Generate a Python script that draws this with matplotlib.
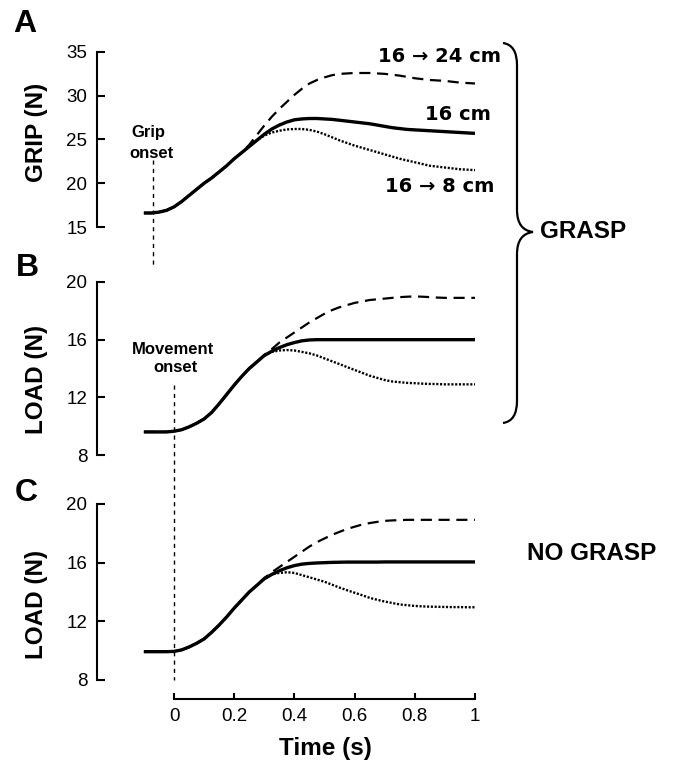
import matplotlib
matplotlib.use("Agg")
import matplotlib.pyplot as plt
from matplotlib.path import Path
from matplotlib.patches import PathPatch

# ---------------- data ----------------
time = [-0.1, -0.075, -0.05, -0.025, 0.0, 0.025, 0.05, 0.075, 0.1,
        0.125, 0.15, 0.175, 0.2, 0.225, 0.25, 0.275, 0.3, 0.325,
        0.35, 0.375, 0.4, 0.425, 0.45, 0.475, 0.5, 0.525, 0.55,
        0.575, 0.6, 0.625, 0.65, 0.675, 0.7, 0.725, 0.75, 0.775,
        0.8, 0.825, 0.85, 0.875, 0.9, 0.925, 0.95, 0.975, 1.0]

grip_16 = [16.6, 16.6, 16.7, 16.9, 17.3, 17.9, 18.6, 19.3, 20.0,
           20.6, 21.3, 22.0, 22.8, 23.5, 24.2, 24.9, 25.6, 26.2,
           26.65, 27.0, 27.25, 27.35, 27.4, 27.4, 27.35, 27.3, 27.2,
           27.1, 27.0, 26.9, 26.8, 26.65, 26.5, 26.35, 26.25, 26.15,
           26.1, 26.05, 26.0, 25.95, 25.9, 25.85, 25.8, 25.75, 25.7]
grip_24 = [16.6, 16.6, 16.7, 16.9, 17.3, 17.9, 18.6, 19.3, 20.0,
           20.6, 21.3, 22.0, 22.8, 23.5, 24.4, 25.5, 26.6, 27.6,
           28.5, 29.3, 30.1, 30.8, 31.4, 31.8, 32.1, 32.35, 32.5,
           32.55, 32.6, 32.6, 32.6, 32.55, 32.5, 32.4, 32.3, 32.15,
           32.0, 31.9, 31.8, 31.75, 31.7, 31.6, 31.5, 31.45, 31.4]
grip_8 = [16.6, 16.6, 16.7, 16.9, 17.3, 17.9, 18.6, 19.3, 20.0,
          20.6, 21.3, 22.0, 22.8, 23.5, 24.2, 24.9, 25.45, 25.8,
          26.0, 26.15, 26.2, 26.2, 26.1, 25.9, 25.6, 25.25, 24.9,
          24.6, 24.3, 24.05, 23.8, 23.55, 23.3, 23.05, 22.8, 22.6,
          22.4, 22.2, 22.0, 21.9, 21.8, 21.7, 21.6, 21.55, 21.5]

loadB_16 = [9.6, 9.6, 9.6, 9.6, 9.65, 9.75, 9.95, 10.2, 10.5,
            10.95, 11.55, 12.2, 12.85, 13.45, 14.0, 14.45, 14.9, 15.2,
            15.45, 15.65, 15.8, 15.92, 15.98, 16.0, 16.0, 16.0, 16.0,
            16.0, 16.0, 16.0, 16.0, 16.0, 16.0, 16.0, 16.0, 16.0,
            16.0, 16.0, 16.0, 16.0, 16.0, 16.0, 16.0, 16.0, 16.0]
loadB_24 = [9.6, 9.6, 9.6, 9.6, 9.65, 9.75, 9.95, 10.2, 10.5,
            10.95, 11.55, 12.2, 12.85, 13.45, 14.0, 14.45, 14.95, 15.35,
            15.8, 16.15, 16.5, 16.85, 17.2, 17.5, 17.8, 18.05, 18.25,
            18.4, 18.55, 18.65, 18.75, 18.8, 18.85, 18.9, 18.95, 18.98,
            19.0, 18.98, 18.95, 18.92, 18.9, 18.9, 18.9, 18.9, 18.9]
loadB_8 = [9.6, 9.6, 9.6, 9.6, 9.65, 9.75, 9.95, 10.2, 10.5,
           10.95, 11.55, 12.2, 12.85, 13.45, 14.0, 14.45, 14.9, 15.15,
           15.25, 15.28, 15.25, 15.15, 15.05, 14.9, 14.7, 14.5, 14.3,
           14.1, 13.9, 13.7, 13.5, 13.35, 13.2, 13.1, 13.05, 13.0,
           12.98, 12.95, 12.93, 12.92, 12.9, 12.9, 12.9, 12.9, 12.9]

loadC_16 = [9.93, 9.93, 9.93, 9.93, 9.95, 10.05, 10.25, 10.5, 10.8,
            11.25, 11.75, 12.3, 12.9, 13.45, 14.0, 14.45, 14.9, 15.2,
            15.45, 15.65, 15.8, 15.9, 15.95, 15.98, 16.0, 16.02, 16.03,
            16.04, 16.04, 16.04, 16.04, 16.04, 16.05, 16.05, 16.05, 16.05,
            16.05, 16.05, 16.05, 16.05, 16.05, 16.05, 16.05, 16.05, 16.05]
loadC_24 = [9.93, 9.93, 9.93, 9.93, 9.95, 10.05, 10.25, 10.5, 10.8,
            11.25, 11.75, 12.3, 12.9, 13.45, 14.0, 14.45, 14.95, 15.35,
            15.7, 16.05, 16.4, 16.75, 17.1, 17.4, 17.65, 17.9, 18.1,
            18.3, 18.45, 18.6, 18.7, 18.78, 18.85, 18.88, 18.9, 18.92,
            18.92, 18.92, 18.92, 18.92, 18.92, 18.92, 18.92, 18.92, 18.92]
loadC_8 = [9.93, 9.93, 9.93, 9.93, 9.95, 10.05, 10.25, 10.5, 10.8,
           11.25, 11.75, 12.3, 12.9, 13.45, 14.0, 14.45, 14.95, 15.2,
           15.3, 15.35, 15.3, 15.15, 15.0, 14.85, 14.7, 14.5, 14.3,
           14.12, 13.95, 13.78, 13.6, 13.47, 13.35, 13.25, 13.15, 13.1,
           13.05, 13.02, 13.0, 12.99, 12.98, 12.97, 12.97, 12.96, 12.96]

grip_ticks = [15, 20, 25, 30, 35]
load_ticks = [8, 12, 16, 20]
time_ticks = [0, 0.2, 0.4, 0.6, 0.8, 1]
time_ticklabels = ["0", "0.2", "0.4", "0.6", "0.8", "1"]
grip_onset_t = -0.07
move_onset_t = 0.0

# ---------------- figure ----------------
W, H = 676, 763
fig = plt.figure(figsize=(W / 100, H / 100), dpi=100)
plt.rcParams['font.family'] = ['Liberation Sans', 'DejaVu Sans']


def fx(px):
    return px / W


def fy(py):
    return 1 - py / H


x_left_px, x_right_px = 97, 480
t0_px, t1_px = 174, 475
tpp = 1.0 / (t1_px - t0_px)
xlim = ((x_left_px - t0_px) * tpp, (x_right_px - t0_px) * tpp)


def make_ax(top_px, bot_px, ylim, yticks):
    ax = fig.add_axes([fx(x_left_px), fy(bot_px), (x_right_px - x_left_px) / W,
                       (bot_px - top_px) / H])
    ax.set_xlim(*xlim)
    ax.set_ylim(*ylim)
    for s in ['top', 'right', 'bottom']:
        ax.spines[s].set_visible(False)
    ax.spines['left'].set_linewidth(1.5)
    ax.set_yticks(yticks)
    ax.tick_params(axis='y', direction='in', length=6, width=1.5, pad=7,
                   labelsize=13.5)
    ax.set_xticks([])
    ax.patch.set_alpha(0)
    return ax


axA = make_ax(52, 227, (15, 35), grip_ticks)
axB = make_ax(282, 455, (8, 20), load_ticks)
axC = make_ax(504, 680, (8, 20), load_ticks)

solid_kw = dict(color='black', lw=2.4, solid_capstyle='butt',
                solid_joinstyle='round', zorder=3)
dash_kw = dict(color='black', lw=1.6, linestyle=(0, (5, 3)), zorder=2)
dot_kw = dict(color='black', lw=1.7, linestyle=(0, (0.9, 0.7)), zorder=2)

for ax, s16, s24, s8 in [(axA, grip_16, grip_24, grip_8),
                         (axB, loadB_16, loadB_24, loadB_8),
                         (axC, loadC_16, loadC_24, loadC_8)]:
    ax.plot(time, s24, **dash_kw)
    ax.plot(time, s8, **dot_kw)
    ax.plot(time, s16, **solid_kw)

# time axis on panel C
axC.spines['bottom'].set_visible(True)
axC.spines['bottom'].set_position(('outward', 13.5))
axC.spines['bottom'].set_bounds(0, 1)
axC.spines['bottom'].set_linewidth(1.5)
axC.set_xticks(time_ticks)
axC.set_xticklabels(time_ticklabels)
axC.tick_params(axis='x', direction='in', length=4, width=1.5, pad=7,
                labelsize=13.5)

# onset lines
axA.plot([grip_onset_t, grip_onset_t], [22.7, 10.3], color='black', lw=1.0,
         linestyle=(0, (3, 3)), clip_on=False)
axC.plot([move_onset_t, move_onset_t], [28.1, 8.0], color='black', lw=1.0,
         linestyle=(0, (3, 3)), clip_on=False)

# texts
fig.text(fx(148), fy(133), "Grip", ha='center', va='center', fontsize=12,
         fontweight='bold')
fig.text(fx(151), fy(154), "onset", ha='center', va='center', fontsize=12,
         fontweight='bold')
fig.text(fx(173), fy(349), "Movement", ha='center', va='center', fontsize=12,
         fontweight='bold')
fig.text(fx(175), fy(368), "onset", ha='center', va='center', fontsize=12,
         fontweight='bold')

for lab, (cx, cy) in [("A", (25, 24)), ("B", (27, 268)), ("C", (26, 493))]:
    fig.text(fx(cx), fy(cy), lab, ha='center', va='center', fontsize=23,
             fontweight='bold')

for lab, cy in [("GRIP (N)", 132), ("LOAD (N)", 379), ("LOAD (N)", 604)]:
    fig.text(fx(36), fy(cy), lab, ha='center', va='center', rotation=90,
             fontsize=17.5, fontweight='bold')

fig.text(fx(325), fy(749), "Time (s)", ha='center', va='center', fontsize=17.5,
         fontweight='bold')

ann_kw = dict(ha='center', va='center', fontsize=14, fontweight='bold',
              family=['DejaVu Sans'])
fig.text(fx(440), fy(57), "16 \u2192 24 cm", **ann_kw)
fig.text(fx(458), fy(114), "16 cm", **ann_kw)
fig.text(fx(440), fy(187), "16 \u2192 8 cm", **ann_kw)

fig.text(fx(540), fy(232), "GRASP", ha='left', va='center', fontsize=17.5,
         fontweight='bold')
fig.text(fx(527), fy(554), "NO GRASP", ha='left', va='center', fontsize=17.5,
         fontweight='bold')

# curly brace
bx, tip_x = 517, 533
top, mid, bot = 43, 232, 423
pts_px = [(503, top), (bx, top + 2), (bx, top + 22),
          (bx, mid - 22),
          (bx, mid - 2), (tip_x, mid),
          (bx, mid + 2), (bx, mid + 22),
          (bx, bot - 22),
          (bx, bot - 2), (503, bot)]
codes = [Path.MOVETO, Path.CURVE3, Path.CURVE3,
         Path.LINETO,
         Path.CURVE3, Path.CURVE3,
         Path.CURVE3, Path.CURVE3,
         Path.LINETO,
         Path.CURVE3, Path.CURVE3]
verts = [(fx(x), fy(y)) for x, y in pts_px]
fig.add_artist(PathPatch(Path(verts, codes), transform=fig.transFigure,
                         facecolor='none', edgecolor='black', lw=1.6))

fig.savefig("out.png", dpi=100)
